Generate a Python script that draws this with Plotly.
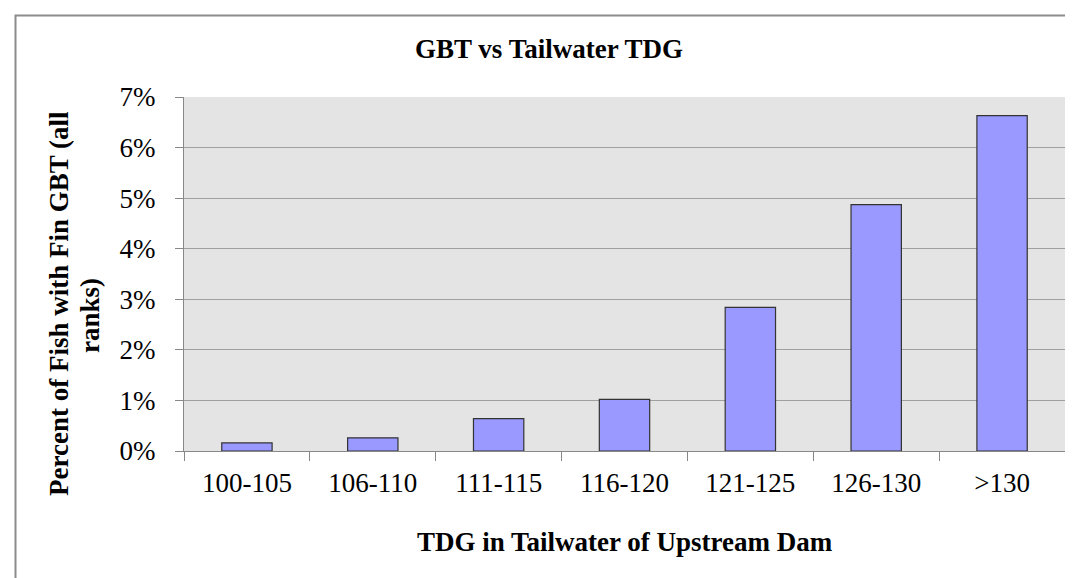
import plotly.graph_objects as go

categories = ["100-105", "106-110", "111-115", "116-120", "121-125", "126-130", ">130"]
percent_gbt = [0.0016, 0.0026, 0.0064, 0.0102, 0.0284, 0.0487, 0.0663]
y_ticks = [0, 0.01, 0.02, 0.03, 0.04, 0.05, 0.06, 0.07]

FONT = "Liberation Serif, Times New Roman, serif"
W, H = 1073, 578
L, R, T, B = 176, 16, 89, 135
pw, ph = W - L - R, H - T - B

def px_x(x):
    return (x - L) / pw

def px_y(y):
    return (H - B - y) / ph

fig = go.Figure(
    go.Bar(
        x=categories,
        y=percent_gbt,
        marker=dict(color="#9999FF", line=dict(color="#333333", width=1.2)),
    )
)

fig.update_layout(
    width=W,
    height=H,
    margin=dict(l=L, r=R, t=T, b=B, pad=0),
    paper_bgcolor="white",
    plot_bgcolor="#E4E4E4",
    bargap=0.6,
    showlegend=False,
    font=dict(family=FONT, size=27, color="black"),
    title=dict(
        text="<b>GBT vs Tailwater TDG</b>",
        x=541 / W,
        xanchor="center",
        y=1 - 41 / H,
        yanchor="middle",
        font=dict(family=FONT, size=27, color="black"),
    ),
    xaxis=dict(
        showline=True,
        linecolor="#888888",
        linewidth=1,
        ticks="outside",
        tickson="boundaries",
        ticklen=9,
        tickcolor="#888888",
        tickfont=dict(family=FONT, size=27, color="black"),
        showgrid=False,
        ticklabelstandoff=8,
    ),
    yaxis=dict(
        range=[0, 0.07],
        tickvals=y_ticks,
        tickformat=".0%",
        showline=True,
        linecolor="#888888",
        linewidth=1,
        ticks="outside",
        ticklen=8,
        tickcolor="#888888",
        tickfont=dict(family=FONT, size=27, color="black"),
        showgrid=True,
        gridcolor="#A0A0A0",
        gridwidth=1,
        zeroline=False,
        ticklabelstandoff=14,
    ),
    annotations=[
        dict(
            text="<b>TDG in Tailwater of Upstream Dam</b>",
            xref="paper", yref="paper",
            x=0.5, y=px_y(534),
            xanchor="center", yanchor="middle",
            showarrow=False,
            font=dict(family=FONT, size=27, color="black"),
        ),
        dict(
            text="<b>Percent of Fish with Fin GBT (all</b>",
            xref="paper", yref="paper",
            x=px_x(51), y=px_y(296),
            xanchor="center", yanchor="middle",
            textangle=-90,
            showarrow=False,
            font=dict(family=FONT, size=27, color="black"),
        ),
        dict(
            text="<b>ranks)</b>",
            xref="paper", yref="paper",
            x=px_x(82), y=px_y(308),
            xanchor="center", yanchor="middle",
            textangle=-90,
            showarrow=False,
            font=dict(family=FONT, size=27, color="black"),
        ),
    ],
    shapes=[
        dict(
            type="rect", xref="paper", yref="paper",
            x0=px_x(7.5), x1=px_x(1080), y0=px_y(576.5), y1=px_y(7.5),
            line=dict(color="#8C8C8C", width=2),
            fillcolor="rgba(0,0,0,0)",
            layer="below",
        )
    ],
)

fig.write_html("out.html")
